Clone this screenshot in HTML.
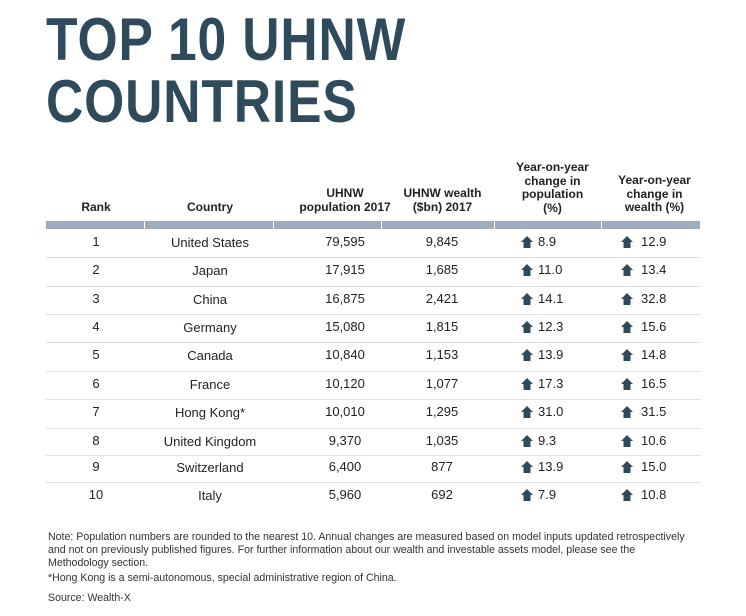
<!DOCTYPE html>
<html><head><meta charset="utf-8"><style>
body{margin:0;width:746px;height:616px;background:#fff;font-family:"Liberation Sans",sans-serif;color:#222;position:relative;overflow:hidden}
.t{position:absolute;left:46px;font-weight:bold;font-size:60px;color:#2f4a5a;transform-origin:0 0;transform:scaleX(0.86);letter-spacing:1px;line-height:60px;white-space:nowrap}
.h{position:absolute;font-weight:bold;font-size:12px;text-align:center;line-height:13.5px;color:#222}
.c{position:absolute;font-size:13px;text-align:center;width:120px;margin-left:-60px}
.bar{position:absolute;top:221px;height:8px;background:#9eadbe}
.sep{position:absolute;left:46px;width:654px;height:1px;background:#dde1e5}
.n{position:absolute;font-size:10.6px;color:#333;left:48px;line-height:13px;white-space:nowrap}
svg.ar{position:absolute}
</style></head><body>
<div class="t" style="top:10px">TOP 10 UHNW</div>
<div class="t" style="top:72px">COUNTRIES</div>

<div class="h" style="left:66px;width:60px;top:201px">Rank</div>
<div class="h" style="left:160px;width:100px;top:201px">Country</div>
<div class="h" style="left:280px;width:130px;top:187px">UHNW<br>population 2017</div>
<div class="h" style="left:390px;width:105px;top:187px">UHNW wealth<br>($bn) 2017</div>
<div class="h" style="left:500px;width:105px;top:161px">Year-on-year<br>change in<br>population<br>(%)</div>
<div class="h" style="left:602px;width:105px;top:174px">Year-on-year<br>change in<br>wealth (%)</div>

<div class="bar" style="left:46px;width:98px"></div>
<div class="bar" style="left:145px;width:128px"></div>
<div class="bar" style="left:274px;width:107px"></div>
<div class="bar" style="left:382px;width:112px"></div>
<div class="bar" style="left:495px;width:106px"></div>
<div class="bar" style="left:602px;width:98px"></div>

<div id="rows"></div>

<div class="n" style="top:531px">Note: Population numbers are rounded to the nearest 10. Annual changes are measured based on model inputs updated retrospectively<br>and not on previously published figures. For further information about our wealth and investable assets model, please see the<br>Methodology section.</div>
<div class="n" style="top:572px">*Hong Kong is a semi-autonomous, special administrative region of China.</div>
<div class="n" style="top:592px">Source: Wealth-X</div>

<script>
const ranks=["1","2","3","4","5","6","7","8","9","10"];
const countries=["United States","Japan","China","Germany","Canada","France","Hong Kong*","United Kingdom","Switzerland","Italy"];
const population=["79,595","17,915","16,875","15,080","10,840","10,120","10,010","9,370","6,400","5,960"];
const wealth=["9,845","1,685","2,421","1,815","1,153","1,077","1,295","1,035","877","692"];
const popChange=["8.9","11.0","14.1","12.3","13.9","17.3","31.0","9.3","13.9","7.9"];
const wealthChange=["12.9","13.4","32.8","15.6","14.8","16.5","31.5","10.6","15.0","10.8"];
const rowY=[242,270,299,327,355,384,412,441,467,495];
const root=document.getElementById('rows');
function cell(x,y,txt,name,align){
  const d=document.createElement('div');
  d.className='c';
  
  
  d.style.left=x+'px';d.style.top=(y-8)+'px';
  if(align==='left'){d.style.textAlign='left';d.style.marginLeft='0';}
  d.textContent=txt;root.appendChild(d);
}
function arrow(x,y,name){
  const s=document.createElementNS('http://www.w3.org/2000/svg','svg');
  s.setAttribute('class','ar');
  s.setAttribute('width','12');s.setAttribute('height','12');
  
  
  s.style.left=x+'px';s.style.top=(y-6)+'px';
  s.innerHTML='<path d="M6 0 L12 6 L9.5 6 L9.5 12 L2.5 12 L2.5 6 L0 6 Z" fill="#2f4a5a"/>';
  root.appendChild(s);
}
for(let i=0;i<ranks.length;i++){
  const y=rowY[i];
  cell(96,y,ranks[i],'rank-'+ranks[i]);
  cell(210,y+1,countries[i],'country-'+(i+1));
  cell(345,y,population[i],'population-'+(i+1));
  cell(442,y,wealth[i],'wealth-'+(i+1));
  arrow(521,y,'pop-change-arrow-'+(i+1));
  cell(538,y,popChange[i],'pop-change-'+(i+1),'left');
  arrow(621,y,'wealth-change-arrow-'+(i+1));
  cell(641,y,wealthChange[i],'wealth-change-'+(i+1),'left');
  if(i<ranks.length-1){
    const s=document.createElement('div');
    s.className='sep';
    
    
    s.style.top=Math.round((rowY[i]+rowY[i+1])/2+1)+'px';
    root.appendChild(s);
  }
}
</script>
</body></html>
